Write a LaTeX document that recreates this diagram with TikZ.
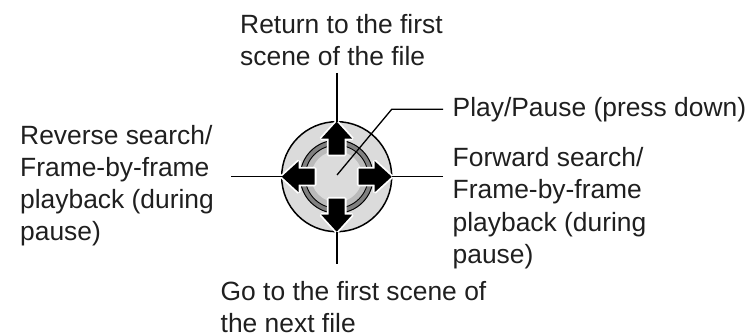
\documentclass[tikz,border=0pt]{standalone}
\usepackage{fontspec}
\setmainfont{Liberation Sans}
\definecolor{lite}{gray}{0.86}
\definecolor{midg}{gray}{0.73}
\definecolor{darkg}{gray}{0.5}
\definecolor{ink}{gray}{0.12}
\tikzset{
  lbl/.style={align=left,anchor=north west,inner sep=0pt,font=\fontsize{26.4}{32.1}\selectfont,text=ink},
  lead/.style={draw=black,line width=1.6pt},
  arrowshape/.style={fill=black,draw=white,line width=3.6pt,line join=bevel}
}
\begin{document}
\begin{tikzpicture}[x=1pt,y=-1pt]
\useasboundingbox (0,0) rectangle (748,336);
\coordinate (c) at (336.7,176.7);
\coordinate (topend) at (336.7,122);
\coordinate (botend) at (336.7,232);
\coordinate (lend) at (282,176.7);
\coordinate (rend) at (392,176.7);
\coordinate (playend) at (337,175);
\coordinate (playknee) at (391.7,109.3);
\coordinate (t1) at (336.7,73);
\coordinate (b1) at (336.7,264);
\coordinate (l1) at (231,176.7);
\coordinate (r1) at (443,176.7);
\coordinate (p1) at (443,109.3);
% body
\fill[lite,draw=black,line width=1.5pt] (c) circle (55);
\fill[darkg,draw=black,line width=1pt] (c) circle (36.5);
\fill[midg,draw=black,line width=0.9pt] (c) circle (31.5);
\fill[lite] (c) circle (25.5);
% arrows
\begin{scope}[shift={(336.7,176.7)}]
\foreach \a in {0,90,180,270}{
\draw[arrowshape,rotate=\a] (22,-8) -- (38,-8) -- (38,-15.5) -- (55,0) -- (38,15.5) -- (38,8) -- (22,8) -- cycle;
\fill[black,rotate=\a] (22,-8) -- (38,-8) -- (38,-15.5) -- (55,0) -- (38,15.5) -- (38,8) -- (22,8) -- cycle;
}
\end{scope}
% leaders
\draw[lead] (t1) -- (topend);
\draw[lead] (b1) -- (botend);
\draw[lead] (l1) -- (lend);
\draw[lead] (r1) -- (rend);
\draw[lead,line width=1.3pt] (playend) -- (playknee) -- (p1);
\node[lbl] (top) at (240,14) {Return to the first\\scene of the file};
\node[lbl] (play) at (452.5,97) {Play/Pause (press down)};
\node[lbl] (fwd) at (452.5,147.5) {Forward search/\\Frame-by-frame\\playback (during\\pause)};
\node[lbl] (rev) at (20,125) {Reverse search/\\Frame-by-frame\\playback (during\\pause)};
\node[lbl] (bot) at (220.5,281) {Go to the first scene of\\the next file};
\end{tikzpicture}
\end{document}
